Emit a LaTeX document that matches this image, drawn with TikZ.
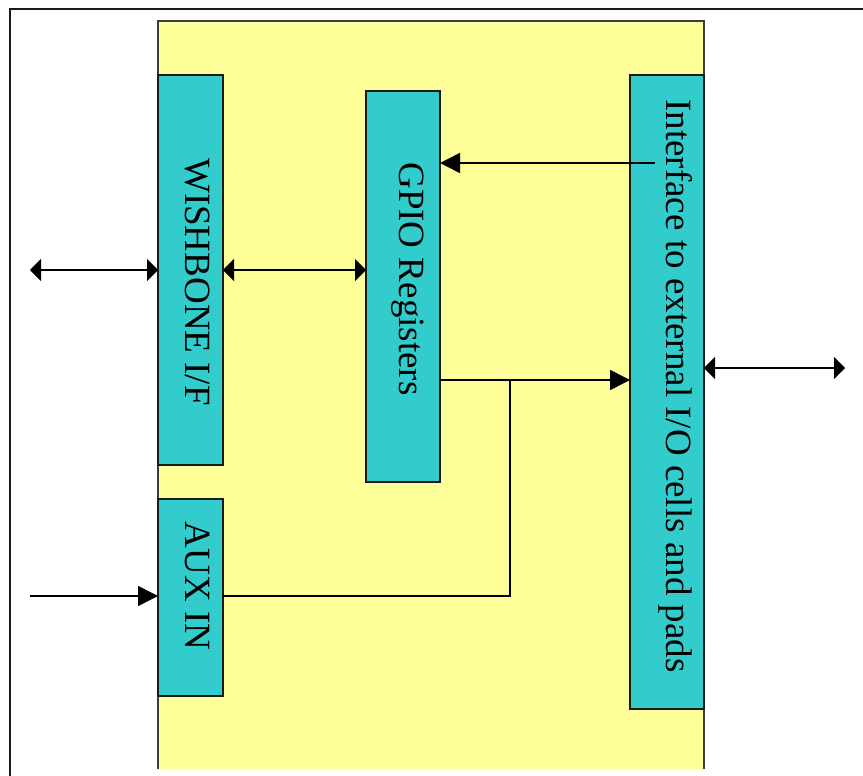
\documentclass[tikz,border=0pt]{standalone}
\usepackage{fontspec}
\setmainfont{Liberation Serif}
\usetikzlibrary{arrows.meta,calc}
\definecolor{ylw}{HTML}{FFFF99}
\definecolor{teal2}{HTML}{33CCCC}
\definecolor{edge}{HTML}{1A1A1A}
\tikzset{
  blk/.style={draw=edge, fill=teal2, line width=2pt, inner sep=0pt, outer sep=0pt},
  lbl/.style={rotate=-90, anchor=base, inner sep=0pt, font=\fontsize{37}{41}\selectfont},
  sgl/.style={line width=1.6pt, -{Triangle[length=20pt,width=20pt]}},
  dbl/.style={line width=1.6pt, {Triangle[length=11pt,width=22pt]}-{Triangle[length=11pt,width=22pt]}},
  wire/.style={line width=1.6pt}
}
\begin{document}
\begin{tikzpicture}[x=1pt,y=-1pt]
\useasboundingbox (0,0) rectangle (863,776);
\clip (0,0) rectangle (863,776);
% outer frame
\draw[line width=2pt, edge] (10,9) rectangle (900,800);
% yellow background
\fill[ylw] (158,21) rectangle (704,769);
\draw[line width=1.5pt, edge!85] (158,769) -- (158,21) -- (704,21) -- (704,769);
% boxes
\node[blk, minimum width=65pt, minimum height=390pt] (wb) at (190.5,270) {};
\node[blk, minimum width=65pt, minimum height=197pt] (aux) at (190.5,597.5) {};
\node[blk, minimum width=74pt, minimum height=391pt] (gp) at (403,286.5) {};
\node[blk, minimum width=74pt, minimum height=634pt] (io) at (667,392) {};
% labels
\node[lbl] (wbt) at (185,282) {WISHBONE I/F};
\node[lbl] (auxt) at (185,586) {AUX IN};
\node[lbl] (gpt) at (399,279) {GPIO Registers};
\node[lbl] (iot) at (666,386) {Interface to external I/O cells and pads};
% connector coordinates
\coordinate (lin) at (30,270);
\coordinate (ain) at (30,596);
\coordinate (c1) at (655,163);
\coordinate (j) at (510,380);
\coordinate (r) at (845,368);
% connectors
\draw[dbl] (lin) -- (lin -| wb.west);
\draw[dbl] (wb.east) -- (wb.east -| gp.west);
\draw[sgl] (c1) -- (c1 -| gp.east);
\draw[sgl] (j -| gp.east) -- (j -| io.west);
\draw[wire] (aux.east |- ain) -- (ain -| j) -- (j);
\draw[sgl] (ain) -- (ain -| aux.west);
\draw[dbl] (r -| io.east) -- (r);
\end{tikzpicture}
\end{document}
